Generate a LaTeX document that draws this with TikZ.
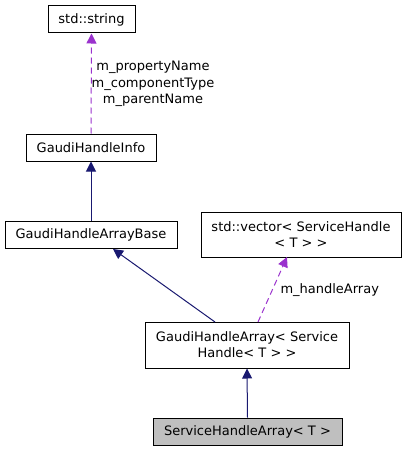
\documentclass[tikz,border=0pt]{standalone}
\usepackage{fontspec}
\setmainfont{DejaVu Sans}
\usetikzlibrary{arrows.meta}
\definecolor{inhcol}{HTML}{191970}
\definecolor{usecol}{HTML}{9A32CD}
\begin{document}
\begin{tikzpicture}[x=1pt,y=-1pt,line width=1pt,
        box/.style={draw=black,fill=white,inner sep=0pt,font=\fontsize{13}{16}\selectfont,align=center},
        inherit/.style={draw=inhcol,-{Triangle[length=10pt,width=10pt,fill=inhcol]}},
        usage/.style={draw=usecol,dash pattern=on 6pt off 4pt,-{Triangle[length=10pt,width=10pt,fill=usecol]}},
        edgelabel/.style={font=\fontsize{13}{16.5}\selectfont,align=center,inner sep=0pt}]
    \useasboundingbox (0,0) rectangle (406,452);
    \node[box,minimum width=87pt,minimum height=27pt] (str) at (91.5,19.5) {std::string};
    \node[box,minimum width=130pt,minimum height=27pt] (info) at (91,147.5) {GaudiHandleInfo};
    \node[box,minimum width=172pt,minimum height=27pt] (base) at (91,234.5) {GaudiHandleArrayBase};
    \node[box,minimum width=200pt,minimum height=45pt] (vec) at (301,234.5) {std::vector< ServiceHandle\\< T > >};
    \node[box,minimum width=204pt,minimum height=46pt] (arr) at (247,345) {GaudiHandleArray< Service\\Handle< T > >};
    \node[box,fill=black!25,minimum width=189pt,minimum height=27pt] (sha) at (247.5,431.5) {ServiceHandleArray< T >};
    % inheritance
    \draw[inherit] (base.north) -- (info.south);
    \draw[inherit] (sha.north) -- (arr.south);
    \coordinate (arrleft) at (215,322);
    \draw[inherit] (arrleft) -- (113,249);
    % members
    \draw[usage] (info.north) -- (str.south);
    \coordinate (arrright) at (258,322);
    \draw[usage] (arrright) -- (287,257);
    \node[edgelabel] (names) at (153,84) {m\_propertyName\\m\_componentType\\m\_parentName};
    \node[edgelabel,anchor=west] (hlabel) at (280,290) {m\_handleArray};
\end{tikzpicture}
\end{document}
